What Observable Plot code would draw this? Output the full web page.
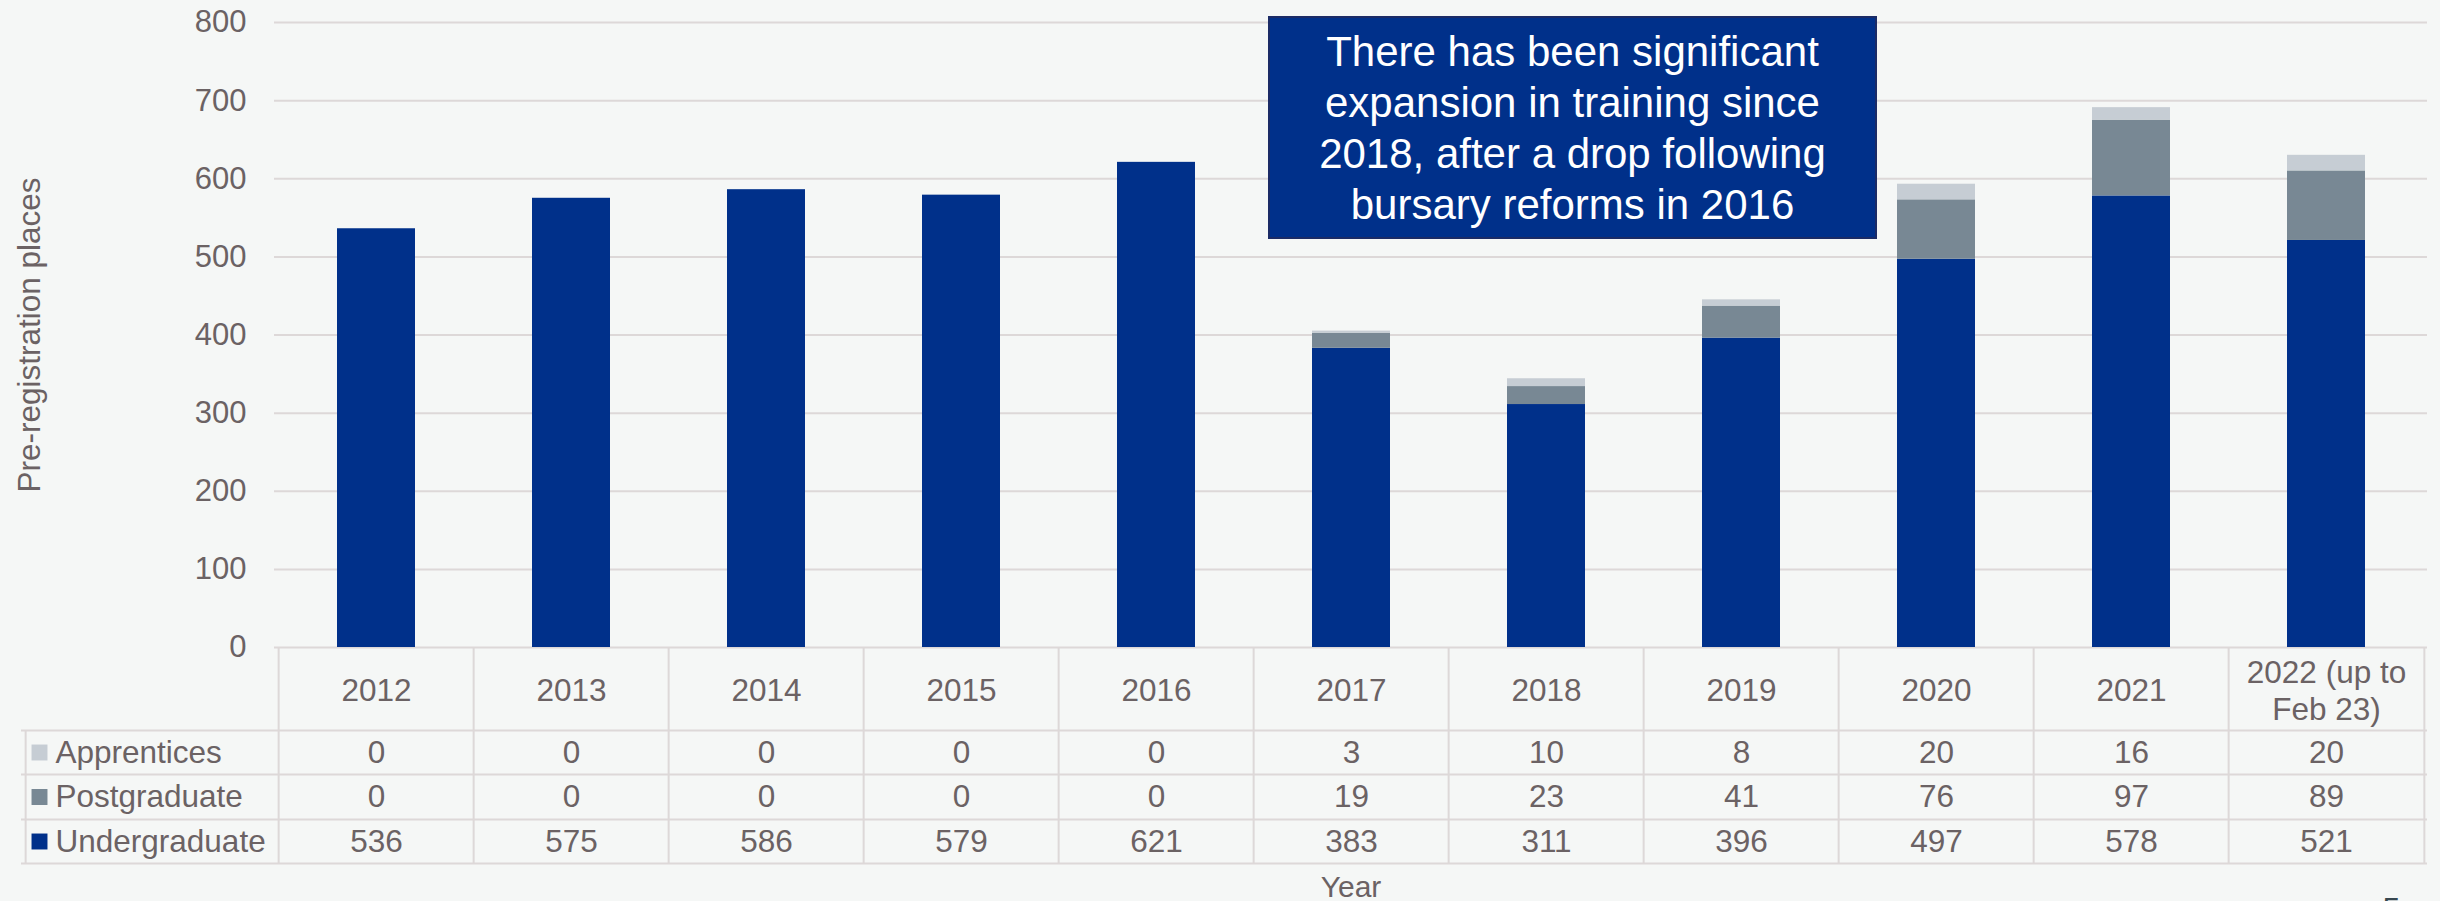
<!DOCTYPE html>
<html>
<head>
<meta charset="utf-8">
<script src="https://cdn.jsdelivr.net/npm/d3@7"></script>
<script src="https://cdn.jsdelivr.net/npm/@observablehq/plot@0.6"></script>
<style>
  html, body { margin: 0; padding: 0; background: #F5F7F6; }
  #wrap { position: relative; width: 2440px; height: 901px; overflow: hidden; font-family: "Liberation Sans", Arial, sans-serif; }
  #note {
    position: absolute; left: 1268px; top: 16px; width: 605px; height: 219px;
    background: #00308A; border: 2px solid #1B2B66; color: #ffffff;
    font-size: 42px; line-height: 51px; text-align: center;
    display: flex; align-items: center; justify-content: center;
    font-family: "Liberation Sans", Arial, sans-serif;
  }
</style>
</head>
<body>
<div id="wrap">
  <div id="chart"></div>
  <div id="note"><div>There has been significant<br>expansion in training since<br>2018, after a drop following<br>bursary reforms in 2016</div></div>
</div>
<script>
// ---- data ----
const years = ["2012", "2013", "2014", "2015", "2016", "2017", "2018", "2019", "2020", "2021", "2022"];
const yearLabels = ["2012", "2013", "2014", "2015", "2016", "2017", "2018", "2019", "2020", "2021", "2022 (up to\nFeb 23)"];
const seriesNames = ["Undergraduate", "Postgraduate", "Apprentices"];
const legendOrder = ["Apprentices", "Postgraduate", "Undergraduate"];
const undergraduate = [536, 575, 586, 579, 621, 383, 311, 396, 497, 578, 521];
const postgraduate = [0, 0, 0, 0, 0, 19, 23, 41, 76, 97, 89];
const apprentices = [0, 0, 0, 0, 0, 3, 10, 8, 20, 16, 20];
const yTicks = [0, 100, 200, 300, 400, 500, 600, 700, 800];
const yLabel = "Pre-registration places";
const xLabel = "Year";
const pageNumber = "5";

// ---- build table ----
const valuesBySeries = { Undergraduate: undergraduate, Postgraduate: postgraduate, Apprentices: apprentices };
const data = seriesNames.flatMap(s => years.map((y, i) => ({ year: y, series: s, value: valuesBySeries[s][i] })));

// ---- layout / style ----
const W = 2440, H = 901, mL = 274, mR = 13, mT = 22, mB = 254;
const step = (W - mL - mR) / years.length;
const txt = "#6B6264";
const lineColor = "#DDD8D8";
const fs = 31.5;
const rowDy = { Apprentices: 105, Postgraduate: 149.5, Undergraduate: 194 };
const rowLineOffsets = [83, 127, 172, 216];
const legendWidth = 253;

const marks = [
  Plot.ruleY(yTicks, { stroke: lineColor, strokeWidth: 2 }),
  Plot.barY(data, { x: "year", y: "value", fill: "series" }),
  Plot.axisY(yTicks, { tickSize: 0, tickPadding: 28, fontSize: 31, fill: txt, label: null }),
  // y label
  Plot.text([yLabel], { frameAnchor: "left", dx: 29 - mL, rotate: -90, textAnchor: "middle", lineAnchor: "middle", fontSize: 31.5, fill: txt }),
  // x label
  Plot.text([xLabel], { frameAnchor: "bottom", dy: 240, lineAnchor: "middle", fontSize: 30, fill: txt }),
  Plot.text([pageNumber], { frameAnchor: "bottom-right", dx: -36, dy: 262, textAnchor: "middle", lineAnchor: "middle", fontSize: 32, fill: "#37474F" }),
  // table horizontal lines
  ...rowLineOffsets.map(off => Plot.ruleY([0], { dy: off, insetLeft: -legendWidth, stroke: lineColor, strokeWidth: 2 })),
  // table vertical lines
  Plot.ruleX(years, { dx: -step / 2, insetTop: 625, insetBottom: -216, stroke: lineColor, strokeWidth: 2 }),
  Plot.ruleX([years[years.length - 1]], { dx: step / 2, insetTop: 625, insetBottom: -216, stroke: lineColor, strokeWidth: 2 }),
  Plot.ruleX([years[0]], { dx: -step / 2 - legendWidth, insetTop: 708, insetBottom: -216, stroke: lineColor, strokeWidth: 2 }),
  // header
  Plot.text(years, { x: d => d, text: (d, i) => yearLabels[i], frameAnchor: "bottom", dy: 42, lineAnchor: "middle", fontSize: fs, fill: txt, lineHeight: 1.18 }),
  // values
  ...legendOrder.map(s => Plot.text(data.filter(d => d.series === s), {
    x: "year", text: d => String(d.value), frameAnchor: "bottom", dy: rowDy[s], lineAnchor: "middle", fontSize: fs, fill: txt
  })),
  // legend
  ...legendOrder.map(s => Plot.dot([s], {
    frameAnchor: "bottom-left", dx: 39 - mL, dy: rowDy[s], symbol: "square", r: 9, fill: d => d
  })),
  ...legendOrder.map(s => Plot.text([s], {
    frameAnchor: "bottom-left", dx: 55 - mL, dy: rowDy[s], textAnchor: "start", lineAnchor: "middle", fontSize: fs, fill: txt
  }))
];

const plot = Plot.plot({
  width: W, height: H,
  marginLeft: mL, marginRight: mR, marginTop: mT, marginBottom: mB,
  style: { background: "#F5F7F6", color: txt, fontFamily: "'Liberation Sans', Arial, sans-serif", overflow: "visible" },
  x: { domain: years, paddingInner: 0.6, paddingOuter: 0.3, axis: null },
  y: { domain: [0, 800], axis: null },
  color: { domain: legendOrder, range: ["#C6CDD4", "#788894", "#00308A"] },
  marks
});
document.getElementById("chart").appendChild(plot);
</script>
</body>
</html>
